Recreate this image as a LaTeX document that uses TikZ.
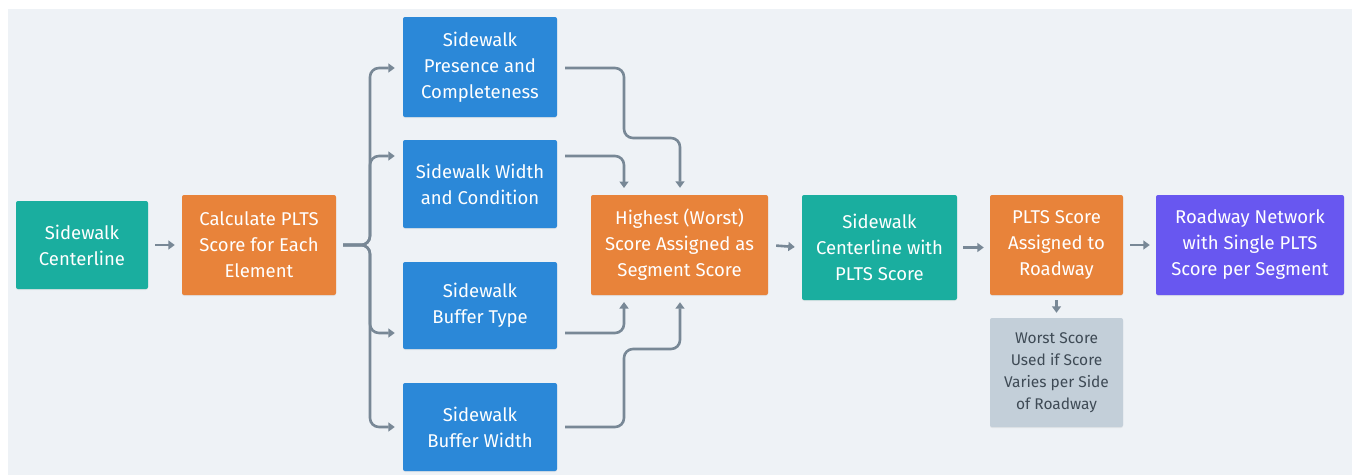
\documentclass[tikz,border=0pt]{standalone}
\usepackage{fontspec}
\setmainfont{Fira Sans}
\usetikzlibrary{arrows.meta,shadows}
\definecolor{bgc}{HTML}{EEF2F6}
\definecolor{tealc}{HTML}{1AAE9F}
\definecolor{orangec}{HTML}{E8833A}
\definecolor{bluec}{HTML}{2B88D8}
\definecolor{purplec}{HTML}{6857F0}
\definecolor{greyboxc}{HTML}{C3CFD9}
\definecolor{greytextc}{HTML}{3E4A55}
\definecolor{linkc}{HTML}{788896}
\tikzset{
  box/.style={draw=none, rounded corners=2pt, align=center, text=white,
    inner sep=0pt, font=\fontsize{18.5}{26}\selectfont,
    drop shadow={shadow xshift=0pt, shadow yshift=-1pt, opacity=0.12}},
  tealbox/.style={box, fill=tealc},
  orangebox/.style={box, fill=orangec},
  bluebox/.style={box, fill=bluec},
  purplebox/.style={box, fill=purplec},
  notebox/.style={box, fill=greyboxc, text=greytextc, font=\fontsize{15.5}{22}\selectfont},
  link/.style={draw=linkc, line width=2.6pt, rounded corners=9pt,
    -{Triangle[width=9pt,length=6.5pt]}},
}
\begin{document}
\begin{tikzpicture}[x=1pt,y=-1pt]
  \useasboundingbox (0,0) rectangle (1353,475);
  \fill[bgc] (8,9) rectangle (1352,475);

  % pipeline boxes
  \node[tealbox, minimum width=132pt, minimum height=88pt] (cl) at (82,245) {Sidewalk\\Centerline};
  \node[orangebox, minimum width=154pt, minimum height=100pt] (calc) at (259,245) {Calculate PLTS\\Score for Each\\Element};
  \node[bluebox, minimum width=154pt, minimum height=100pt] (pres) at (480,67) {Sidewalk\\Presence and\\Completeness};
  \node[bluebox, minimum width=154pt, minimum height=88pt] (wid) at (480,184) {Sidewalk Width\\and Condition};
  \node[bluebox, minimum width=154pt, minimum height=87pt] (btype) at (480,305.5) {Sidewalk\\Buffer Type};
  \node[bluebox, minimum width=154pt, minimum height=88pt] (bwid) at (480,427) {Sidewalk\\Buffer Width};
  \node[orangebox, minimum width=177pt, minimum height=100pt] (high) at (679.5,245) {Highest (Worst)\\Score Assigned as\\Segment Score};
  \node[tealbox, minimum width=155pt, minimum height=105pt] (clp) at (879.5,247.5) {Sidewalk\\Centerline with\\PLTS Score};
  \node[orangebox, minimum width=133pt, minimum height=100pt] (plts) at (1056.5,245) {PLTS Score\\Assigned to\\Roadway};
  \node[purplebox, minimum width=188pt, minimum height=100pt] (road) at (1250,245) {Roadway Network\\with Single PLTS\\Score per Segment};
  \node[notebox, minimum width=133pt, minimum height=109pt] (worst) at (1056.5,372.5) {Worst Score\\Used if Score\\Varies per Side\\of Roadway};

  % straight links
  \draw[link, shorten <=7pt, shorten >=7pt] (cl.east) -- (calc.west);
  \draw[link, shorten <=8pt, shorten >=7pt] (high.east) -- (clp.west);
  \draw[link, shorten <=6pt, shorten >=6pt] (clp.east) -- (clp.east -| plts.west);
  \draw[link, shorten <=7pt, shorten >=6pt] (plts.east) -- (road.west);
  \draw[link, shorten <=5pt, shorten >=5pt] (plts.south) -- (worst.north);

  % fan-out to the four elements
  \coordinate (fan) at ([xshift=7pt]calc.east);
  \draw[link, shorten >=8pt] (fan) -- (370,245) -- (370,68) -- (pres.west |- 0,68);
  \draw[link, shorten >=8pt] (fan) -- (370,245) -- (370,156) -- (wid.west |- 0,156);
  \draw[link, shorten >=8pt] (fan) -- (370,245) -- (370,333) -- (btype.west |- 0,333);
  \draw[link, shorten >=8pt] (fan) -- (370,245) -- (370,427) -- (bwid.west);

  % merge into the segment score
  \draw[link, shorten >=7pt] ([xshift=8pt]pres.east |- 0,68) -- (624,68) -- (624,138) -- (680,138) -- (high.north -| 680,0);
  \draw[link, shorten >=7pt] ([xshift=8pt]wid.east |- 0,156) -- (624,156) -- (624,195);
  \draw[link, shorten >=7pt] ([xshift=8pt]btype.east |- 0,333) -- (624,333) -- (624,295);
  \draw[link, shorten >=7pt] ([xshift=8pt]bwid.east) -- (624,427) -- (624,349) -- (680,349) -- (high.south -| 680,0);
\end{tikzpicture}
\end{document}
